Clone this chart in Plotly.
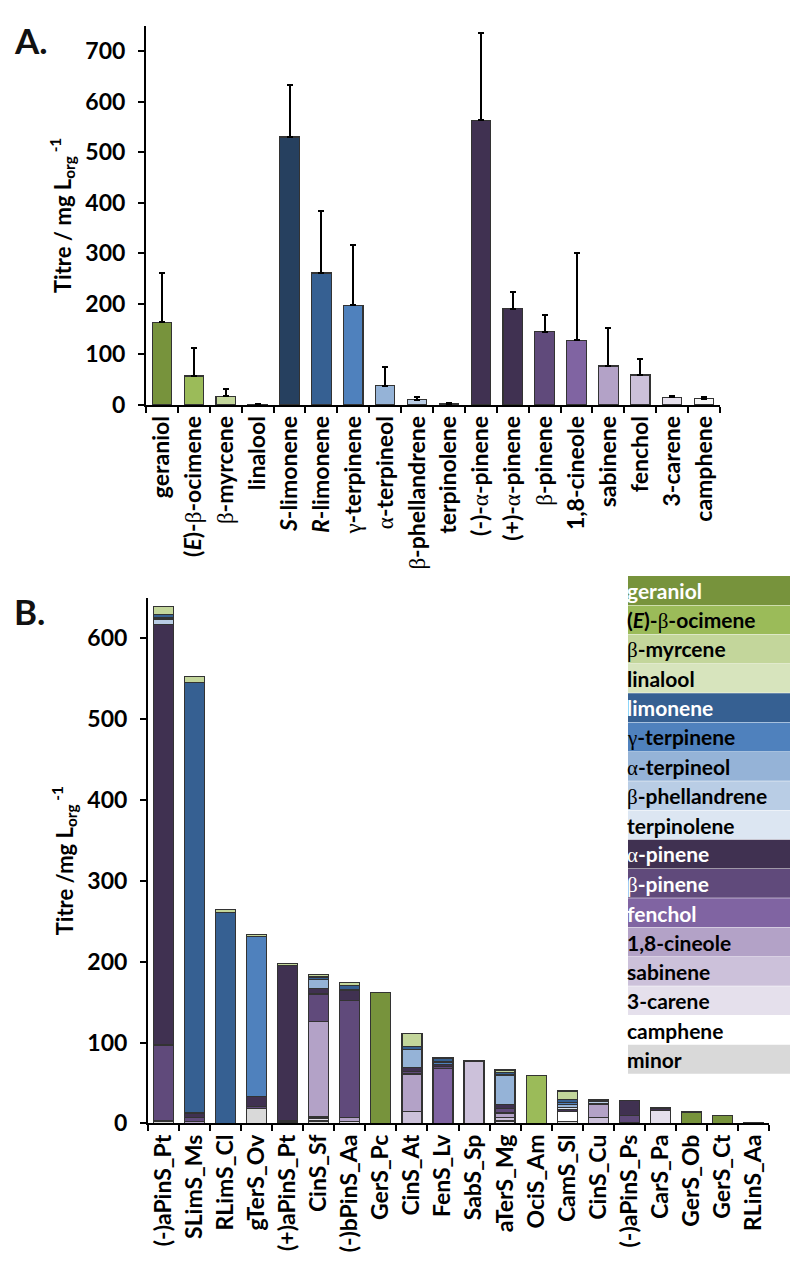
import plotly.graph_objects as go

W, H = 800, 1265
FONT = "Lato"
G = "<span style=\"font-family:'Liberation Serif',serif;font-weight:normal\">{}</span>"
beta, alpha, gamma = G.format("β"), G.format("α"), G.format("γ")

# ---------------- Panel A data ----------------
a_keys = ["geraniol", "ocimene", "myrcene", "linalool", "S-limonene", "R-limonene",
          "g-terpinene", "a-terpineol", "b-phellandrene", "terpinolene", "(-)-a-pinene",
          "(+)-a-pinene", "b-pinene", "1,8-cineole", "sabinene", "fenchol", "3-carene", "camphene"]
a_ticktext = ["geraniol", "(<i>E</i>)-" + beta + "-ocimene", beta + "-myrcene", "linalool",
              "<i>S</i>-limonene", "<i>R</i>-limonene", gamma + "-terpinene", alpha + "-terpineol",
              beta + "-phellandrene", "terpinolene", "(-)-" + alpha + "-pinene",
              "(+)-" + alpha + "-pinene", beta + "-pinene", "1,8-cineole", "sabinene", "fenchol",
              "3-carene", "camphene"]
a_values = [163, 57, 17, 1, 530, 261, 197, 38, 10, 2, 563, 190, 145, 128, 77, 59, 15, 12]
a_err = [98, 56, 15, 0.5, 102, 122, 120, 36, 6, 2, 173, 33, 33, 173, 75, 31, 2, 3]
a_colors = ["#77933c", "#9bbb59", "#c3d69b", "#d7e4bd", "#26405f", "#366092", "#4f81bd",
            "#95b3d7", "#b9cde5", "#dce6f2", "#403151", "#403151", "#604a7b", "#8064a2",
            "#b3a2c7", "#ccc1da", "#e5e0ec", "#f7f7f7"]
a_yticks = [0, 100, 200, 300, 400, 500, 600, 700]

# ---------------- Panel B data ----------------
b_cats = ["(-)aPinS_Pt", "SLimS_Ms", "RLimS_Cl", "gTerS_Ov", "(+)aPinS_Pt", "CinS_Sf",
          "(-)bPinS_Aa", "GerS_Pc", "CinS_At", "FenS_Lv", "SabS_Sp", "aTerS_Mg", "OciS_Am",
          "CamS_Sl", "CinS_Cu", "(-)aPinS_Ps", "CarS_Pa", "GerS_Ob", "GerS_Ct", "RLinS_Aa"]

geraniol       = [0, 0, 0, 0, 0, 0, 0, 162, 0, 0, 0, 0, 0, 0, 0, 0, 0, 14, 10, 0]
ocimene        = [0, 0, 0, 0, 0, 0, 0, 0, 0, 0, 0, 0, 59, 0, 0, 0, 0, 0, 0, 0]
myrcene        = [10, 8, 4, 3, 3, 3, 3, 0, 16, 2, 0, 3, 0, 10, 0, 0, 1, 0, 0, 0]
linalool       = [0, 0, 0, 0, 0, 0, 0, 0, 0, 0, 0, 0, 0, 0, 0, 0, 0, 0, 0, 0.5]
limonene       = [4, 532, 261, 0, 0, 3, 5, 0, 4, 4, 0, 3, 0, 4, 0, 0, 0, 0, 0, 0]
g_terpinene    = [2, 0, 0, 198, 0, 0, 0, 0, 0, 3, 0, 0, 0, 3, 0, 0, 0, 0, 0, 0]
a_terpineol    = [0, 0, 0, 0, 0, 11, 0, 0, 22, 0, 0, 37, 0, 3, 2, 0, 0, 0, 0, 0]
b_phellandrene = [6, 0, 0, 0, 0, 0, 0, 0, 0, 0, 0, 0, 0, 0, 2, 0, 0, 0, 0, 0]
terpinolene    = [0, 0, 0, 0, 0, 0, 2, 0, 0, 0, 0, 0, 0, 3, 0, 0, 0, 0, 0, 0]
a_pinene       = [520, 6, 0, 12, 192, 7, 12, 0, 5, 3, 1, 5, 0, 2, 0, 18, 3, 0, 0, 0]
b_pinene       = [94, 5, 0, 3, 2, 34, 145, 0, 3, 2, 0, 5, 0, 0, 1, 9, 0, 0, 0, 0]
fenchol        = [0, 0, 0, 0, 0, 0, 0, 0, 0, 68, 0, 0, 0, 0, 0, 0, 0, 0, 0, 0]
cineole        = [0, 2, 0, 0, 0, 118, 5, 0, 46, 0, 0, 6, 0, 0, 17, 0, 0, 0, 0, 0]
sabinene       = [0, 0, 0, 0, 0, 2, 0, 0, 15, 0, 77, 4, 0, 0, 7, 0, 0, 0, 0, 0]
carene         = [0, 0, 0, 0, 0, 3, 2, 0, 0, 0, 0, 3, 0, 0, 0, 0, 16, 0, 0, 0]
camphene       = [0, 0, 0, 0, 0, 0, 0, 0, 0, 0, 0, 0, 0, 13, 0, 0, 0, 0, 0, 0]
minor          = [3, 0, 0, 18, 1, 3, 0, 0, 0, 0, 0, 0, 0, 2, 0, 1, 0, 0, 0, 0]

b_yticks = [0, 100, 200, 300, 400, 500, 600]

# legend order (top to bottom); stacks are built in reverse order
legend_labels = ["geraniol", "(<i>E</i>)-" + beta + "-ocimene", beta + "-myrcene", "linalool",
                 "limonene", gamma + "-terpinene", alpha + "-terpineol", beta + "-phellandrene",
                 "terpinolene", alpha + "-pinene", beta + "-pinene", "fenchol", "1,8-cineole",
                 "sabinene", "3-carene", "camphene", "minor"]
series = [geraniol, ocimene, myrcene, linalool, limonene, g_terpinene, a_terpineol,
          b_phellandrene, terpinolene, a_pinene, b_pinene, fenchol, cineole, sabinene,
          carene, camphene, minor]
colors = ["#77933c", "#9bbb59", "#c3d69b", "#d7e4bd", "#366092", "#4f81bd", "#95b3d7",
          "#b9cde5", "#dce6f2", "#403151", "#604a7b", "#8064a2", "#b3a2c7", "#ccc1da",
          "#e5e0ec", "#ffffff", "#d9d9d9"]
text_colors = ["white", "black", "black", "black", "white", "black", "black", "black",
               "black", "white", "white", "white", "black", "black", "black", "black", "black"]

# ---------------- figure ----------------
fig = go.Figure()
OUTLINE = dict(color="#333333", width=1.2)

fig.add_trace(go.Bar(
    x=a_keys, y=a_values, marker=dict(color=a_colors, line=OUTLINE),
    error_y=dict(type="data", symmetric=False, array=a_err, arrayminus=[0] * len(a_err),
                 color="black", thickness=2, width=3),
    xaxis="x", yaxis="y", showlegend=False, width=0.61))

for lab, vals, col in reversed(list(zip(legend_labels, series, colors))):
    fig.add_trace(go.Bar(
        x=b_cats, y=[v if v else None for v in vals], name=lab,
        marker=dict(color=col, line=OUTLINE), xaxis="x2", yaxis="y2",
        showlegend=False, width=0.645))


def px_x(p):
    return p / W


def px_y(p):
    return 1 - p / H


TS = 23
tickfont = dict(family=FONT, size=TS, color="black", weight="bold")
axis_common = dict(showline=True, linecolor="black", linewidth=2, ticks="outside",
                   tickwidth=2, tickcolor="black", ticklen=6, showgrid=False,
                   zeroline=False, tickfont=tickfont)
titlefont = dict(family=FONT, size=22, weight="bold", color="black")

fig.update_layout(
    width=W, height=H, margin=dict(l=0, r=0, t=0, b=0),
    paper_bgcolor="white", plot_bgcolor="white", barmode="stack",
    font=dict(family=FONT, color="black"),
    xaxis=dict(domain=[px_x(138), px_x(712)], anchor="y", type="category",
               tickmode="array", tickvals=a_keys, ticktext=a_ticktext, tickangle=-90,
               tickson="boundaries", **axis_common),
    yaxis=dict(domain=[px_y(401), px_y(18)], anchor="x", range=[0, 750],
               tickmode="array", tickvals=a_yticks, ticklabelstandoff=8,
               title=dict(text="Titre / mg L<sub>org</sub><sup> -1</sup>", standoff=8,
                          font=titlefont),
               **axis_common),
    xaxis2=dict(domain=[px_x(140), px_x(761)], anchor="y2", type="category",
                tickangle=-90, tickson="boundaries", **axis_common),
    yaxis2=dict(domain=[px_y(1127), px_y(596)], anchor="x2", range=[0, 650],
                tickmode="array", tickvals=b_yticks, ticklabelstandoff=8,
                title=dict(text="Titre /mg L<sub>org</sub><sup> -1</sup>", standoff=8,
                           font=titlefont),
                **axis_common),
)

# panel letters
for txt, yp in [("A.", 32), ("B.", 609)]:
    fig.add_annotation(x=px_x(4), y=px_y(yp), xref="paper", yref="paper", text=txt,
                       showarrow=False, xanchor="left", yanchor="middle",
                       font=dict(family=FONT, size=35, color="#111111", weight="bold"))

# legend table
top, rowh, x0, x1 = 574, 29.6, 620, 782
for i, (lab, col, tc) in enumerate(zip(legend_labels, colors, text_colors)):
    y0 = top + i * rowh
    fig.add_shape(type="rect", xref="paper", yref="paper", x0=px_x(x0), x1=px_x(x1),
                  y0=px_y(y0 + rowh - 0.5), y1=px_y(y0), fillcolor=col, line=dict(width=0),
                  layer="above")
    fig.add_annotation(x=px_x(x0 - 3), y=px_y(y0 + rowh / 2), xref="paper", yref="paper",
                       text=lab, showarrow=False, xanchor="left", yanchor="middle",
                       font=dict(family=FONT, size=21, color=tc, weight="bold"))

fig.write_html("out.html")
